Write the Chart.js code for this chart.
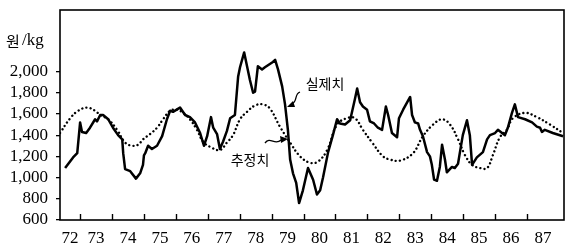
<!DOCTYPE html>
<html>
<head>
<meta charset="utf-8">
<script src="https://cdn.jsdelivr.net/npm/chart.js@4/dist/chart.umd.min.js"></script>
<style>
  html, body { margin: 0; padding: 0; background: #fff; }
</style>
</head>
<body>
<canvas id="myChart" width="574" height="247"></canvas>
<script>
// year labels on the x axis, ticks on the y axis
const years = [72, 73, 74, 75, 76, 77, 78, 79, 80, 81, 82, 83, 84, 85, 86, 87]
const yTicks = [600, 800, 1000, 1200, 1400, 1600, 1800, 2000]

const actualX = [72.53, 72.78, 72.91, 73.00, 73.06, 73.19, 73.31, 73.47, 73.53, 73.63, 73.72, 73.88, 74.03, 74.19, 74.32, 74.35, 74.41, 74.57, 74.75, 74.88, 74.97, 75.00, 75.04, 75.13, 75.25, 75.41, 75.57, 75.72, 75.82, 75.91, 76.13, 76.29, 76.44, 76.60, 76.76, 76.88, 76.98, 77.10, 77.17, 77.29, 77.38, 77.48, 77.60, 77.70, 77.85, 77.95, 78.01, 78.14, 78.23, 78.32, 78.42, 78.48, 78.57, 78.70, 78.79, 79.04, 79.11, 79.20, 79.33, 79.42, 79.51, 79.58, 79.67, 79.77, 79.86, 79.98, 80.14, 80.30, 80.42, 80.52, 80.61, 80.77, 80.92, 81.05, 81.14, 81.30, 81.46, 81.61, 81.68, 81.77, 81.86, 81.99, 82.08, 82.21, 82.33, 82.46, 82.58, 82.65, 82.77, 82.93, 82.99, 83.12, 83.34, 83.40, 83.49, 83.59, 83.65, 83.74, 83.87, 83.96, 84.02, 84.09, 84.18, 84.27, 84.34, 84.43, 84.49, 84.65, 84.74, 84.84, 84.90, 84.99, 85.12, 85.21, 85.28, 85.43, 85.62, 85.75, 85.84, 86.00, 86.09, 86.22, 86.31, 86.40, 86.53, 86.62, 86.72, 86.94, 87.16, 87.31, 87.41, 87.47, 87.56, 87.81, 88.13]
const actualY = [1090, 1190, 1230, 1520, 1430, 1420, 1470, 1550, 1530, 1590, 1590, 1550, 1470, 1400, 1360, 1230, 1080, 1060, 990, 1040, 1120, 1210, 1230, 1300, 1270, 1300, 1390, 1550, 1630, 1620, 1660, 1590, 1570, 1520, 1420, 1300, 1390, 1570, 1470, 1410, 1270, 1340, 1440, 1560, 1590, 1950, 2040, 2180, 2050, 1920, 1800, 1810, 2050, 2020, 2040, 2090, 2110, 2020, 1860, 1690, 1450, 1170, 1040, 950, 760, 880, 1090, 980, 840, 880, 1000, 1240, 1400, 1550, 1510, 1500, 1540, 1740, 1840, 1710, 1670, 1640, 1530, 1510, 1470, 1450, 1670, 1590, 1420, 1380, 1560, 1640, 1760, 1590, 1520, 1510, 1450, 1390, 1240, 1200, 1120, 980, 970, 1100, 1310, 1170, 1050, 1100, 1090, 1130, 1240, 1400, 1540, 1400, 1120, 1190, 1240, 1360, 1400, 1420, 1450, 1420, 1400, 1470, 1610, 1690, 1570, 1550, 1520, 1480, 1470, 1430, 1450, 1420, 1390]

// 추정치 (estimated price)
const estX = [72.37, 72.69, 72.94, 73.22, 73.47, 73.63, 73.88, 74.16, 74.41, 74.63, 74.82, 74.97, 75.19, 75.41, 75.60, 75.82, 76.04, 76.23, 76.44, 76.66, 76.85, 77.07, 77.38, 77.60, 77.79, 78.01, 78.23, 78.48, 78.73, 78.95, 79.26, 79.58, 79.89, 80.20, 80.45, 80.74, 81.05, 81.36, 81.61, 81.86, 82.15, 82.49, 82.71, 83.02, 83.43, 83.74, 84.06, 84.34, 84.59, 84.84, 85.06, 85.28, 85.53, 85.75, 85.93, 86.15, 86.37, 86.56, 86.94, 87.31, 87.72, 88.13]
const estY = [1420, 1560, 1630, 1660, 1630, 1590, 1550, 1450, 1330, 1300, 1310, 1360, 1410, 1470, 1550, 1630, 1640, 1610, 1550, 1450, 1340, 1290, 1260, 1330, 1400, 1550, 1620, 1680, 1690, 1650, 1480, 1330, 1200, 1140, 1150, 1260, 1500, 1560, 1560, 1450, 1330, 1200, 1170, 1160, 1230, 1390, 1500, 1550, 1500, 1360, 1210, 1120, 1090, 1090, 1210, 1380, 1450, 1560, 1610, 1570, 1500, 1420]

const xMin = 72.37
const xMax = 88.16

function toPoints(xs, ys){
  let pts = []
  for (let i = 0; i < xs.length; i++) {
    pts.push({x: xs[i], y: ys[i]})
  }
  return pts
}

// frame, inner year ticks, unit and annotations
const extras = {
  id: 'extras',
  afterDraw(chart){
    const ctx = chart.ctx
    const a = chart.chartArea
    const xs = chart.scales.x
    ctx.save()
    ctx.strokeStyle = '#000'
    ctx.lineWidth = 1.6
    ctx.strokeRect(a.left, a.top, a.right - a.left, a.bottom - a.top)

    ctx.lineWidth = 1.4
    years.forEach(y => {
      if (y > xMin && y < xMax) {
        const px = Math.round(xs.getPixelForValue(y)) + 0.5
        ctx.beginPath()
        ctx.moveTo(px, a.bottom)
        ctx.lineTo(px, a.bottom - 6)
        ctx.stroke()
      }
    })

    ctx.fillStyle = '#000'
    ctx.font = '15px "Noto Sans CJK KR"'
    ctx.textBaseline = 'middle'
    ctx.fillText('원', 6, 41)
    ctx.font = '17px "Liberation Serif"'
    ctx.fillText('/kg', 22, 41)

    ctx.font = '14px "Noto Sans CJK KR"'
    ctx.textAlign = 'center'
    ctx.fillText('실제치', 325, 84)
    ctx.fillText('추정치', 250, 160)

    // squiggly arrow to the solid line
    ctx.lineWidth = 1.3
    ctx.beginPath()
    ctx.moveTo(300, 92)
    ctx.bezierCurveTo(294, 94, 298, 101, 292, 104)
    ctx.stroke()
    ctx.beginPath()
    ctx.moveTo(287, 107)
    ctx.lineTo(293, 101)
    ctx.lineTo(295, 107)
    ctx.closePath()
    ctx.fill()

    // squiggly arrow to the dotted line
    ctx.beginPath()
    ctx.moveTo(265, 143)
    ctx.bezierCurveTo(270, 136, 275, 146, 281, 140)
    ctx.stroke()
    ctx.beginPath()
    ctx.moveTo(288, 139)
    ctx.lineTo(280, 136)
    ctx.lineTo(281, 143)
    ctx.closePath()
    ctx.fill()
    ctx.restore()
  }
}

new Chart(document.getElementById('myChart'), {
  type: 'line',
  data: {
    datasets: [{
      label: '실제치',
      data: toPoints(actualX, actualY),
      borderColor: '#000',
      borderWidth: 2.5,
      borderJoinStyle: 'round',
      pointRadius: 0,
      tension: 0
    }, {
      label: '추정치',
      data: toPoints(estX, estY),
      borderColor: '#000',
      borderWidth: 2.4,
      borderDash: [0.01, 4.2],
      borderCapStyle: 'round',
      pointRadius: 0,
      tension: 0.4
    }]
  },
  options: {
    responsive: false,
    animation: false,
    devicePixelRatio: 1,
    layout: { padding: { top: 10, right: 10, left: 0, bottom: 0 } },
    plugins: { legend: { display: false }, tooltip: { enabled: false } },
    scales: {
      x: {
        type: 'linear',
        min: xMin,
        max: xMax,
        afterBuildTicks(scale){
          scale.ticks = years.map(y => ({ value: (Math.max(y, xMin) + Math.min(y + 1, xMax)) / 2 }))
        },
        afterFit(scale){
          scale.height = 27
          scale.paddingLeft = 0
          scale.paddingRight = 0
        },
        grid: { display: false, drawTicks: false },
        border: { display: false },
        ticks: {
          padding: 8,
          color: '#000',
          maxRotation: 0,
          autoSkip: false,
          font: { family: 'Liberation Serif', size: 17 },
          callback: v => String(Math.floor(v))
        }
      },
      y: {
        min: 600,
        max: 2580,
        afterBuildTicks(scale){
          scale.ticks = yTicks.map(v => ({ value: v }))
        },
        afterFit(scale){
          scale.width = 60
          scale.paddingTop = 0
          scale.paddingBottom = 0
        },
        grid: { drawOnChartArea: false, drawTicks: true, tickLength: 4, tickColor: '#000', lineWidth: 1.3 },
        border: { display: false },
        ticks: {
          padding: 8,
          color: '#000',
          autoSkip: false,
          font: { family: 'Liberation Serif', size: 17 },
          callback: v => v.toLocaleString('en-US')
        }
      }
    }
  },
  plugins: [extras]
})
</script>
</body>
</html>
